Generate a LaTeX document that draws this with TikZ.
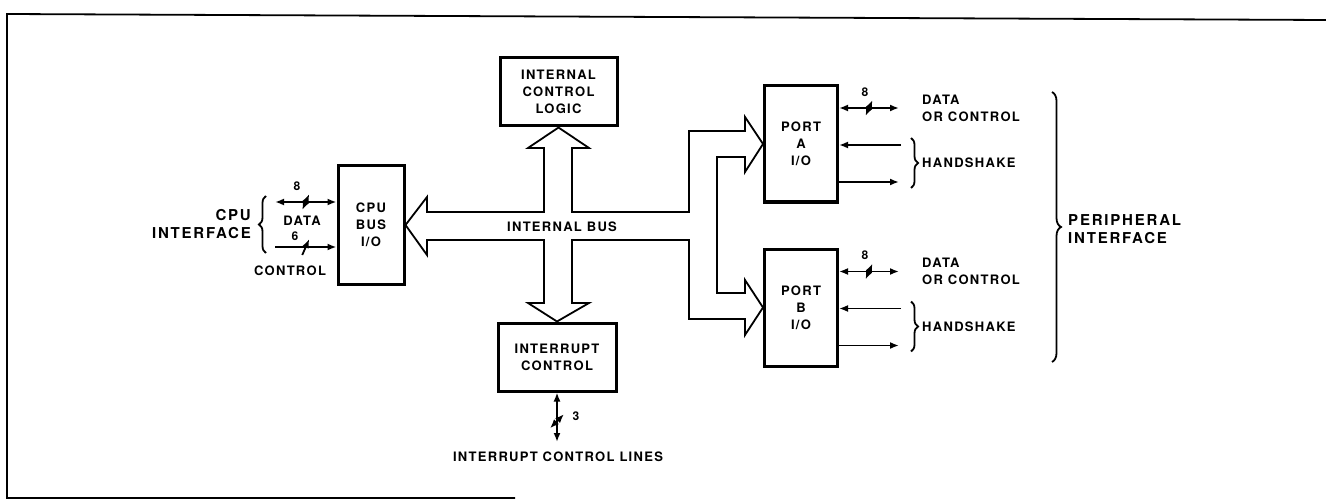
\documentclass[tikz,border=0pt]{standalone}
\usepackage{fontspec}
\newfontfamily\diagfont[LetterSpace=10]{TeX Gyre Heros}
\newfontfamily\ifacefont[LetterSpace=12]{TeX Gyre Heros}
\usetikzlibrary{arrows.meta, decorations.markings, decorations.pathreplacing}

\begin{document}
\begin{tikzpicture}[x=1pt, y=-1pt, >={Latex[length=9pt,width=7pt]},
    box/.style={draw, line width=3pt, align=center, inner sep=0pt,
      font=\diagfont\bfseries\fontsize{13}{17}\selectfont},
    sig/.style={line width=1.8pt},
    lbl/.style={inner sep=0pt, align=left,
      font=\diagfont\bfseries\fontsize{13}{17}\selectfont},
    num/.style={inner sep=0pt, font=\diagfont\bfseries\fontsize{12}{12}\selectfont},
    ifacelbl/.style={inner sep=0pt, font=\ifacefont\bfseries\fontsize{15}{18}\selectfont},
    hbus/.style={postaction={decorate, decoration={markings,
      mark=at position .5 with {\draw[line width=1.8pt] (-3.5pt,-8pt) -- (3.5pt,8pt);}}}},
    vbus/.style={postaction={decorate, decoration={markings,
      mark=at position .42 with {\draw[line width=1.8pt] (-7pt,7pt) -- (7pt,-7pt);}}}},
    brc/.style={decorate, decoration={brace, amplitude=#1}, line width=1.8pt}]
  \useasboundingbox (0,0) rectangle (1326,500);
  % Frame
  \draw[line width=1.8pt] (515,498) -- (7,498) -- (7,14) -- (1326,20);
  % Blocks
  \node[box, minimum width=66pt, minimum height=118pt] (cpu) at (371,225) {CPU\\BUS\\I/O};
  \node[box, minimum width=117pt, minimum height=68pt] (icl) at (558.5,92) {INTERNAL\\CONTROL\\LOGIC};
  \node[box, minimum width=118pt, minimum height=68pt] (irq) at (557,357) {INTERRUPT\\CONTROL};
  \node[box, minimum width=73pt, minimum height=116pt] (porta) at (801,144) {PORT\\A\\I/O};
  \node[box, minimum width=73pt, minimum height=117pt] (portb) at (801,307.5) {PORT\\B\\I/O};
  % Internal bus (hollow arrows)
  \draw[sig, line join=miter]
    (427,212) -- (544,212) -- (544,148) -- (528,148) -- (icl.south) -- (589,148) -- (572,148)
    -- (572,212) -- (689,212) -- (689,131) -- (745,131) -- (745,117) -- (porta.west)
    -- (745,172) -- (745,157) -- (717,157) -- (717,293) -- (745,293) -- (745,280)
    -- (portb.west) -- (745,335) -- (745,319) -- (689,319) -- (689,240) -- (572,240)
    -- (572,303) -- (589,303) -- (irq.north) -- (528,303) -- (544,303) -- (544,240)
    -- (427,240) -- (427,255) -- (cpu.east) -- (427,197) -- cycle;
  \node[lbl] (bus) at (562,227) {INTERNAL BUS};
  % CPU side
  \coordinate (cdat) at (275,202);
  \coordinate (cctl) at (275,247);
  \draw[sig, <->, hbus] (cdat) -- (cdat -| cpu.west);
  \draw[sig, ->, hbus] (cctl) -- (cctl -| cpu.west);
  \node[num] (n8) at (297,186) {8};
  \node[lbl] (dat) at (302,221) {DATA};
  \node[num] (n6) at (295,236) {6};
  \node[lbl] (ctl) at (290,271) {CONTROL};
  \draw[brc=7pt] (266,253) -- (266,196);
  \node[ifacelbl, align=right, anchor=east] (cpuif) at (251,224) {CPU\\INTERFACE};
  % Interrupt lines
  \coordinate (irqend) at (557,442);
  \draw[sig, <->, vbus] (irqend) -- (irq.south);
  \node[num] (n3) at (576,416) {3};
  \node[lbl] (irqlbl) at (558,457) {INTERRUPT CONTROL LINES};
  % Port outputs
  \foreach \p in {porta,portb} {
    \coordinate (\p-dat) at ([shift={(60pt,36pt)}]\p.east);
    \coordinate (\p-hin) at ([shift={(62pt,-1pt)}]\p.east);
    \coordinate (\p-hout) at ([shift={(60pt,-38pt)}]\p.east);
    \draw[sig, <->, hbus] (\p-dat -| \p.east) -- (\p-dat);
    \draw[sig, ->] (\p-hin) -- (\p-hin -| \p.east);
    \draw[sig, ->] (\p-hout -| \p.east) -- (\p-hout);
    \node[num] (\p-n8) at ([shift={(-34pt,16pt)}]\p-dat) {8};
    \node[lbl, anchor=west] (\p-txt) at ([xshift=23pt]\p-dat) {DATA\\OR CONTROL};
    \draw[brc=7pt] ([shift={(72pt,6pt)}]\p.east) -- ([shift={(72pt,-44pt)}]\p.east);
    \node[lbl, anchor=west] (\p-hs) at ([shift={(83pt,-19pt)}]\p.east) {HANDSHAKE};
  }
  % Peripheral side
  \draw[brc=9pt] (1052,92) -- (1052,362);
  \node[ifacelbl, align=left, anchor=west] (perif) at (1068,229) {PERIPHERAL\\INTERFACE};
\end{tikzpicture}
\end{document}
